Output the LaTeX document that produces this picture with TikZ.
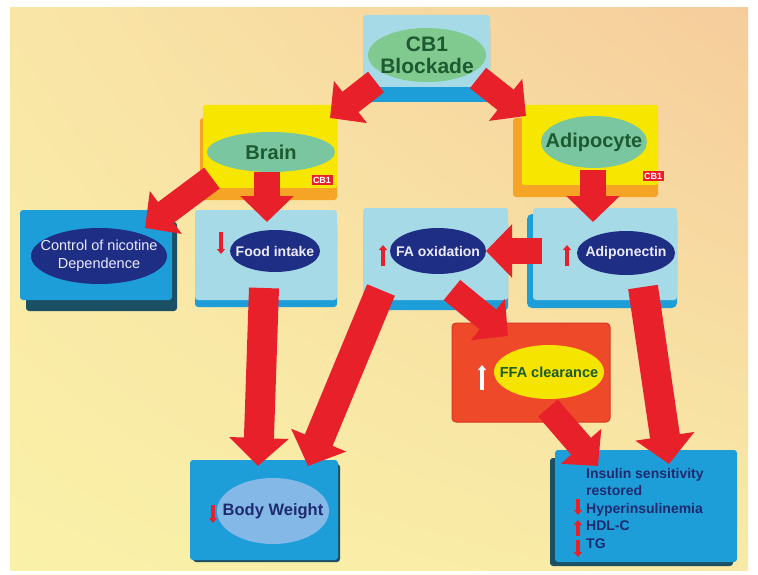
\documentclass[tikz,border=0pt]{standalone}
\usepackage{fontspec}
\setmainfont{Liberation Sans}
\usetikzlibrary{arrows.meta,shapes.geometric,shadings}
\definecolor{bgUL}{HTML}{F9E6A6}
\definecolor{bgUR}{HTML}{F6CC9C}
\definecolor{bgLL}{HTML}{FAF1A8}
\definecolor{bgLR}{HTML}{F8EAA6}
\definecolor{arrred}{HTML}{E8202A}
\definecolor{lblue}{HTML}{A6DAE6}
\definecolor{bluebox}{HTML}{1E9ED8}
\definecolor{darkband}{HTML}{1B4F63}
\definecolor{navy}{HTML}{1F2E85}
\definecolor{cbgreen}{HTML}{80C98F}
\definecolor{brgreen}{HTML}{7AC6A0}
\definecolor{txtgreen}{HTML}{1D5A30}
\definecolor{yelbox}{HTML}{F6E600}
\definecolor{orband}{HTML}{F5A425}
\definecolor{ffared}{HTML}{EE4A2A}
\definecolor{ffaedge}{HTML}{D8361E}
\definecolor{ffayel}{HTML}{F5E300}
\definecolor{bwell}{HTML}{84B8E6}
\definecolor{navytxt}{HTML}{1F2A70}
\begin{document}
\begin{tikzpicture}[x=1pt,y=-1pt,
  bigarrow/.style={draw=arrred,line width=26pt,-{Triangle[length=26pt,width=52pt]}},
  longarrow/.style={draw=arrred,line width=30pt,-{Triangle[length=28pt,width=58pt]}},
  indarrow/.style={draw=arrred,line width=4pt,-{Triangle[length=5pt,width=8pt]}},
  ell/.style={ellipse,inner sep=0pt},
  gtxt/.style={font=\bfseries\fontsize{20}{22}\selectfont,text=txtgreen,inner sep=0pt},
  wtxt/.style={font=\bfseries\fontsize{14}{18}\selectfont,text=white!92!blue,inner sep=0pt,align=center},
  cblabel/.style={fill=arrred,text=white,font=\bfseries\fontsize{9}{9}\selectfont,inner sep=1.5pt}]
\useasboundingbox (0,0) rectangle (758,575);
\fill[white] (0,0) rectangle (758,575);
\shade[upper left=bgUL,upper right=bgUR,lower left=bgLL,lower right=bgLR] (10,8) rectangle (748,570);

% boxes
\fill[bluebox,rounded corners=3pt] (364,26) rectangle (490,102);
\fill[lblue,rounded corners=3pt] (363,15) rectangle (490,87);

\fill[orband,rounded corners=3pt] (200,118) rectangle (337,200);
\fill[yelbox,rounded corners=2pt] (203,105) rectangle (337,188);

\fill[orband,rounded corners=3pt] (513,118) rectangle (658,197);
\fill[yelbox,rounded corners=2pt] (522,105) rectangle (658,185);

\fill[darkband,rounded corners=3pt] (26,222) rectangle (177,311);
\fill[bluebox,rounded corners=3pt] (20,210) rectangle (172,300);

\fill[bluebox,rounded corners=3pt] (195,222) rectangle (337,307);
\fill[lblue,rounded corners=3pt] (195,210) rectangle (337,300);

\fill[bluebox,rounded corners=3pt] (363,220) rectangle (508,310);
\fill[lblue,rounded corners=3pt] (363,208) rectangle (508,300);

\fill[bluebox,rounded corners=5pt] (527,214) rectangle (677,308);
\fill[lblue,rounded corners=3pt] (533,208) rectangle (677,300);

\fill[ffared,draw=ffaedge,line width=1pt,rounded corners=4pt] (452,323) rectangle (610,422);

\fill[darkband,rounded corners=3pt] (193,464) rectangle (340,562);
\fill[bluebox,rounded corners=3pt] (190,460) rectangle (338,560);

\fill[darkband,rounded corners=3pt] (550,458) rectangle (733,566);
\fill[bluebox,rounded corners=3pt] (555,450) rectangle (737,562);

% ellipses / labels
\node[ell,fill=cbgreen,minimum width=118pt,minimum height=54pt,
  label={[gtxt,align=center,font=\bfseries\fontsize{21}{22}\selectfont]center:CB1\\Blockade}] (cb) at (427,55) {};
\node[ell,fill=brgreen,minimum width=128pt,minimum height=40pt,
  label={[gtxt]center:Brain}] (brain) at (271,152) {};
\node[ell,fill=brgreen,minimum width=106pt,minimum height=52pt,
  label={[gtxt]center:Adipocyte}] (adipo) at (594,142) {};
\node[cblabel] (cbl1) at (322,180) {CB1};
\node[cblabel] (cbl2) at (653,176) {CB1};

\node[ell,fill=navy,minimum width=136pt,minimum height=56pt,
  label={[wtxt,font=\fontsize{14.5}{18}\selectfont]center:Control of nicotine\\Dependence}] (nic) at (99,256) {};
\node[ell,fill=navy,minimum width=90pt,minimum height=42pt,
  label={[wtxt]center:Food intake}] (food) at (275,251) {};
\node[ell,fill=navy,minimum width=96pt,minimum height=46pt,
  label={[wtxt]center:FA oxidation}] (fa) at (438,251) {};
\node[ell,fill=navy,minimum width=98pt,minimum height=44pt,
  label={[wtxt]center:Adiponectin}] (adn) at (626,253) {};
\node[ell,fill=ffayel,minimum width=110pt,minimum height=54pt,
  label={[gtxt,font=\bfseries\fontsize{14.5}{16}\selectfont]center:FFA clearance}] (ffa) at (549,372) {};
\node[ell,fill=bwell,minimum width=112pt,minimum height=66pt,
  label={[gtxt,text=navytxt,font=\bfseries\fontsize{16.5}{18}\selectfont]center:Body Weight}] (bw) at (273,511) {};
\node[anchor=north west,align=left,text=navytxt,inner sep=0pt,
  font=\bfseries\fontsize{14}{17.5}\selectfont] (ins) at (586,468)
  {Insulin sensitivity\\restored\\Hyperinsulinemia\\HDL-C\\TG};

% small indicator arrows
\coordinate (i1a) at (221,232); \coordinate (i1b) at (221,254);
\draw[indarrow] (i1a) -- (i1b);
\coordinate (i2a) at (383,266); \coordinate (i2b) at (383,245);
\draw[indarrow] (i2a) -- (i2b);
\coordinate (i3a) at (567,266); \coordinate (i3b) at (567,245);
\draw[indarrow] (i3a) -- (i3b);
\coordinate (i4a) at (482,390); \coordinate (i4b) at (482,365);
\draw[indarrow,draw=white] (i4a) -- (i4b);
\coordinate (i5a) at (213,505); \coordinate (i5b) at (213,523);
\draw[indarrow] (i5a) -- (i5b);
\coordinate (i6a) at (578,499); \coordinate (i6b) at (578,515);
\draw[indarrow] (i6a) -- (i6b);
\coordinate (i7a) at (578,536); \coordinate (i7b) at (578,520);
\draw[indarrow] (i7a) -- (i7b);
\coordinate (i8a) at (578,540); \coordinate (i8b) at (578,557);
\draw[indarrow] (i8a) -- (i8b);

% big arrows
\coordinate (a1s) at (376,82);  \coordinate (a1e) at (330,118);
\coordinate (a2s) at (478,78);  \coordinate (a2e) at (526,116);
\coordinate (a3s) at (212,178); \coordinate (a3e) at (145,228);
\coordinate (a4s) at (267,172); \coordinate (a4e) at (267,222);
\coordinate (a5s) at (593,170); \coordinate (a5e) at (593,222);
\coordinate (a6s) at (542,251); \coordinate (a6e) at (486,251);
\coordinate (a7s) at (452,290); \coordinate (a7e) at (508,336);
\coordinate (a8s) at (264,288); \coordinate (a8e) at (258,466);
\coordinate (a9s) at (381,290); \coordinate (a9e) at (308,466);
\coordinate (a10s) at (643,287); \coordinate (a10e) at (669,464);
\coordinate (a11s) at (548,408); \coordinate (a11e) at (598,466);
\draw[bigarrow] (a1s) -- (a1e);
\draw[bigarrow] (a2s) -- (a2e);
\draw[bigarrow] (a3s) -- (a3e);
\draw[bigarrow] (a4s) -- (a4e);
\draw[bigarrow] (a5s) -- (a5e);
\draw[bigarrow] (a6s) -- (a6e);
\draw[bigarrow] (a7s) -- (a7e);
\draw[longarrow] (a8s) -- (a8e);
\draw[longarrow] (a9s) -- (a9e);
\draw[longarrow] (a10s) -- (a10e);
\draw[bigarrow] (a11s) -- (a11e);
\end{tikzpicture}
\end{document}
